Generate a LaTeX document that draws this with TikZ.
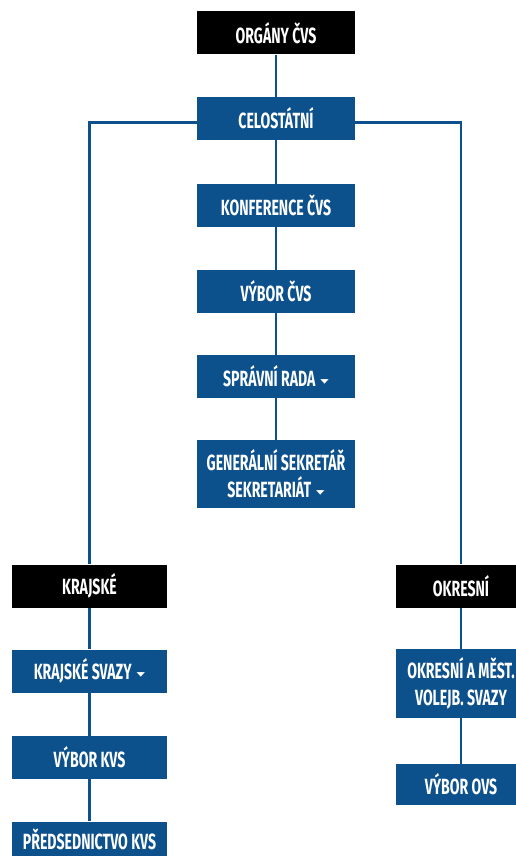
\documentclass[tikz,border=0pt]{standalone}
\usepackage{fontspec}
\setmainfont{Fira Sans}[FakeStretch=0.64]
\newfontfamily\symfont{DejaVu Sans}
\definecolor{cvsblue}{RGB}{12,80,140}
\newcommand{\dropmark}{\hspace{5pt}\raisebox{3pt}{\scalebox{1}[0.55]{\symfont\fontsize{11}{11}\selectfont ▼}}}
\begin{document}
\begin{tikzpicture}[x=1pt,y=-1pt,
		box/.style={fill=cvsblue,text=white,minimum width=158pt,minimum height=43pt,inner sep=0pt,align=center,font=\bfseries\fontsize{22}{27}\selectfont},
		head/.style={box,fill=black},
		link/.style={cvsblue,line width=2.2pt}]
	\useasboundingbox (0,0) rectangle (516,856);
	%central column
		\node[head] (organy) at (276,33) {ORGÁNY ČVS};
		\node[box] (celo) at (276,118.5) {CELOSTÁTNÍ};
		\node[box] (konf) at (276,205.5) {KONFERENCE ČVS};
		\node[box] (vcvs) at (276,291.5) {VÝBOR ČVS};
		\node[box] (rada) at (276,376.5) {SPRÁVNÍ RADA\dropmark};
		\node[box,minimum height=68pt] (sekr) at (276,474) {GENERÁLNÍ SEKRETÁŘ\\SEKRETARIÁT\dropmark};
	%left column
		\node[head,minimum width=155pt] (kraj) at (89.5,586) {KRAJSKÉ};
		\node[box,minimum width=155pt] (ksvazy) at (89.5,671) {KRAJSKÉ SVAZY\dropmark};
		\node[box,minimum width=155pt] (vkvs) at (89.5,757.5) {VÝBOR KVS};
		\node[box,minimum width=155pt,text depth=8pt] (pkvs) at (89.5,843) {PŘEDSEDNICTVO KVS};
	%right column
		\node[head,minimum width=130pt] (okr) at (461,586) {OKRESNÍ};
		\node[box,minimum width=130pt,minimum height=69pt] (osvazy) at (461,683.5) {OKRESNÍ A MĚST.\\VOLEJB. SVAZY};
		\node[box,minimum width=130pt,minimum height=41pt] (vovs) at (461,784.5) {VÝBOR OVS};
	% links
		\draw[link] (organy) -- (celo) -- (konf) -- (vcvs) -- (rada) -- (sekr);
		\draw[link] ([yshift=-4pt]celo.west) -| (kraj.north);
		\draw[link] ([yshift=-4pt]celo.east) -| (okr.north);
		\draw[link] (kraj) -- (ksvazy) -- (vkvs) -- (pkvs);
		\draw[link] (okr) -- (osvazy) -- (vovs);
\end{tikzpicture}
\end{document}
